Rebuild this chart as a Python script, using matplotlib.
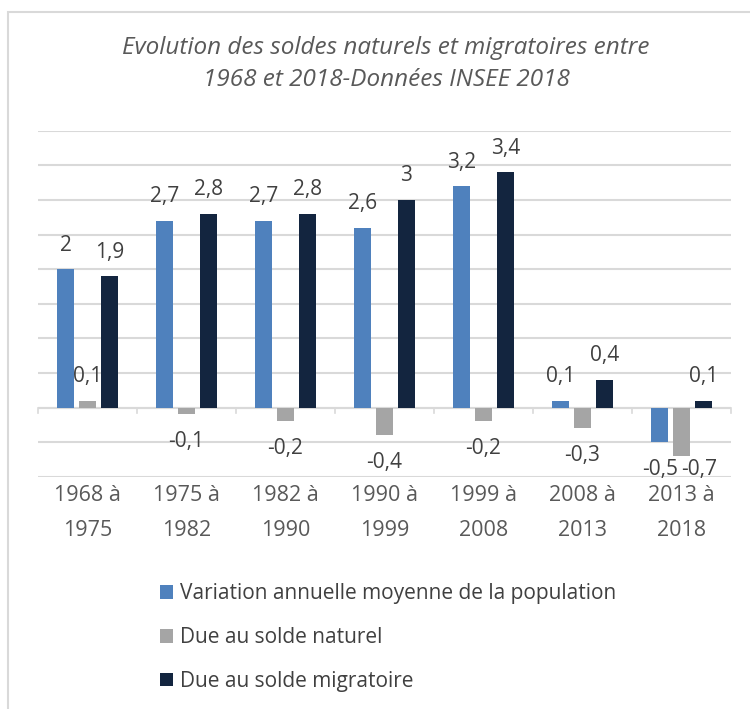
import numpy as np
import matplotlib.pyplot as plt
from matplotlib.patches import Rectangle

plt.rcParams['font.family'] = ['Open Sans', 'DejaVu Sans']

periodes = ["1968 à\n1975", "1975 à\n1982", "1982 à\n1990", "1990 à\n1999",
            "1999 à\n2008", "2008 à\n2013", "2013 à\n2018"]
variation = [2, 2.7, 2.7, 2.6, 3.2, 0.1, -0.5]
naturel = [0.1, -0.1, -0.2, -0.4, -0.2, -0.3, -0.7]
migratoire = [1.9, 2.8, 2.8, 3, 3.4, 0.4, 0.1]

noms = ["Variation annuelle moyenne de la population",
        "Due au solde naturel",
        "Due au solde migratoire"]
couleurs = ["#4F81BD", "#A5A5A5", "#13253F"]

fig = plt.figure(figsize=(7.5, 7.09), dpi=100)
W, H = 750.0, 709.0

# cadre gris du graphique
fig.patches.append(Rectangle((8/W, -0.1), 1.2, 1 - 12/H + 0.1, transform=fig.transFigure,
                             fill=False, edgecolor="#D9D9D9", linewidth=1.5))

ax = fig.add_axes([38/W, 1 - 476.7/H, (731 - 38)/W, (476.7 - 130.7)/H])
ymin, ymax = -1, 4
ppu = (476.7 - 130.7)/(ymax - ymin)   # pixels par unite

x = np.arange(len(periodes))
bw = 0.175
step = 0.22
series = [variation, naturel, migratoire]
for k, (vals, nom, c) in enumerate(zip(series, noms, couleurs)):
    ax.bar(x + (k - 1)*step, vals, bw, color=c, label=nom, zorder=3)

# etiquettes de donnees (restent dans la zone de trace, comme Excel)
for i in x:
    prev = None
    for k, vals in enumerate(series):
        v = vals[i]
        xi = i + (k - 1)*step
        if v >= 0:
            yl = v + 24/ppu
        else:
            yl = max(v - 27/ppu, ymin + 7/ppu)
        if prev is not None and abs(prev[1] - yl) < 0.1 and abs(prev[0] - xi) < 0.3:
            xi = prev[0] + 0.4
        lab = ("%g" % v).replace(".", ",")
        ax.text(xi, yl, lab, ha="center", va="center", fontsize=15, color="#404040")
        prev = (xi, yl)

ax.set_xlim(-0.5, len(periodes) - 0.5)
ax.set_ylim(ymin, ymax)
ax.set_yticks(np.arange(ymin, ymax + 0.01, 0.5))
ax.yaxis.grid(True, color="#D9D9D9", linewidth=1.5, zorder=0)
ax.tick_params(axis="y", left=False, labelleft=False)
for s in ax.spines.values():
    s.set_visible(False)

# axe zero avec graduations entre categories
ax.axhline(0, color="#D9D9D9", linewidth=1.5, zorder=2)
for b in np.arange(-0.5, len(periodes), 1.0):
    ax.plot([b, b], [0, -0.08], color="#D9D9D9", linewidth=1.2, zorder=2, clip_on=False)

ax.set_xticks(x)
ax.set_xticklabels(periodes, fontsize=15.5, color="#595959", linespacing=1.85)
ax.tick_params(axis="x", length=0, pad=6)

fig.text(386/W, 1 - 64/H, "Evolution des soldes naturels et migratoires entre\n1968 et 2018-Données INSEE 2018",
         ha="center", va="center", fontsize=17.5, style="italic", color="#595959", linespacing=1.4)

leg = fig.legend(loc="upper left", bbox_to_anchor=(152/W, 1 - 575/H), frameon=False,
                 fontsize=15, handlelength=0.6, handleheight=0.6, handletextpad=0.35,
                 labelspacing=1.1, borderaxespad=0)
for t in leg.get_texts():
    t.set_color("#404040")

fig.savefig("out.png", dpi=100)
